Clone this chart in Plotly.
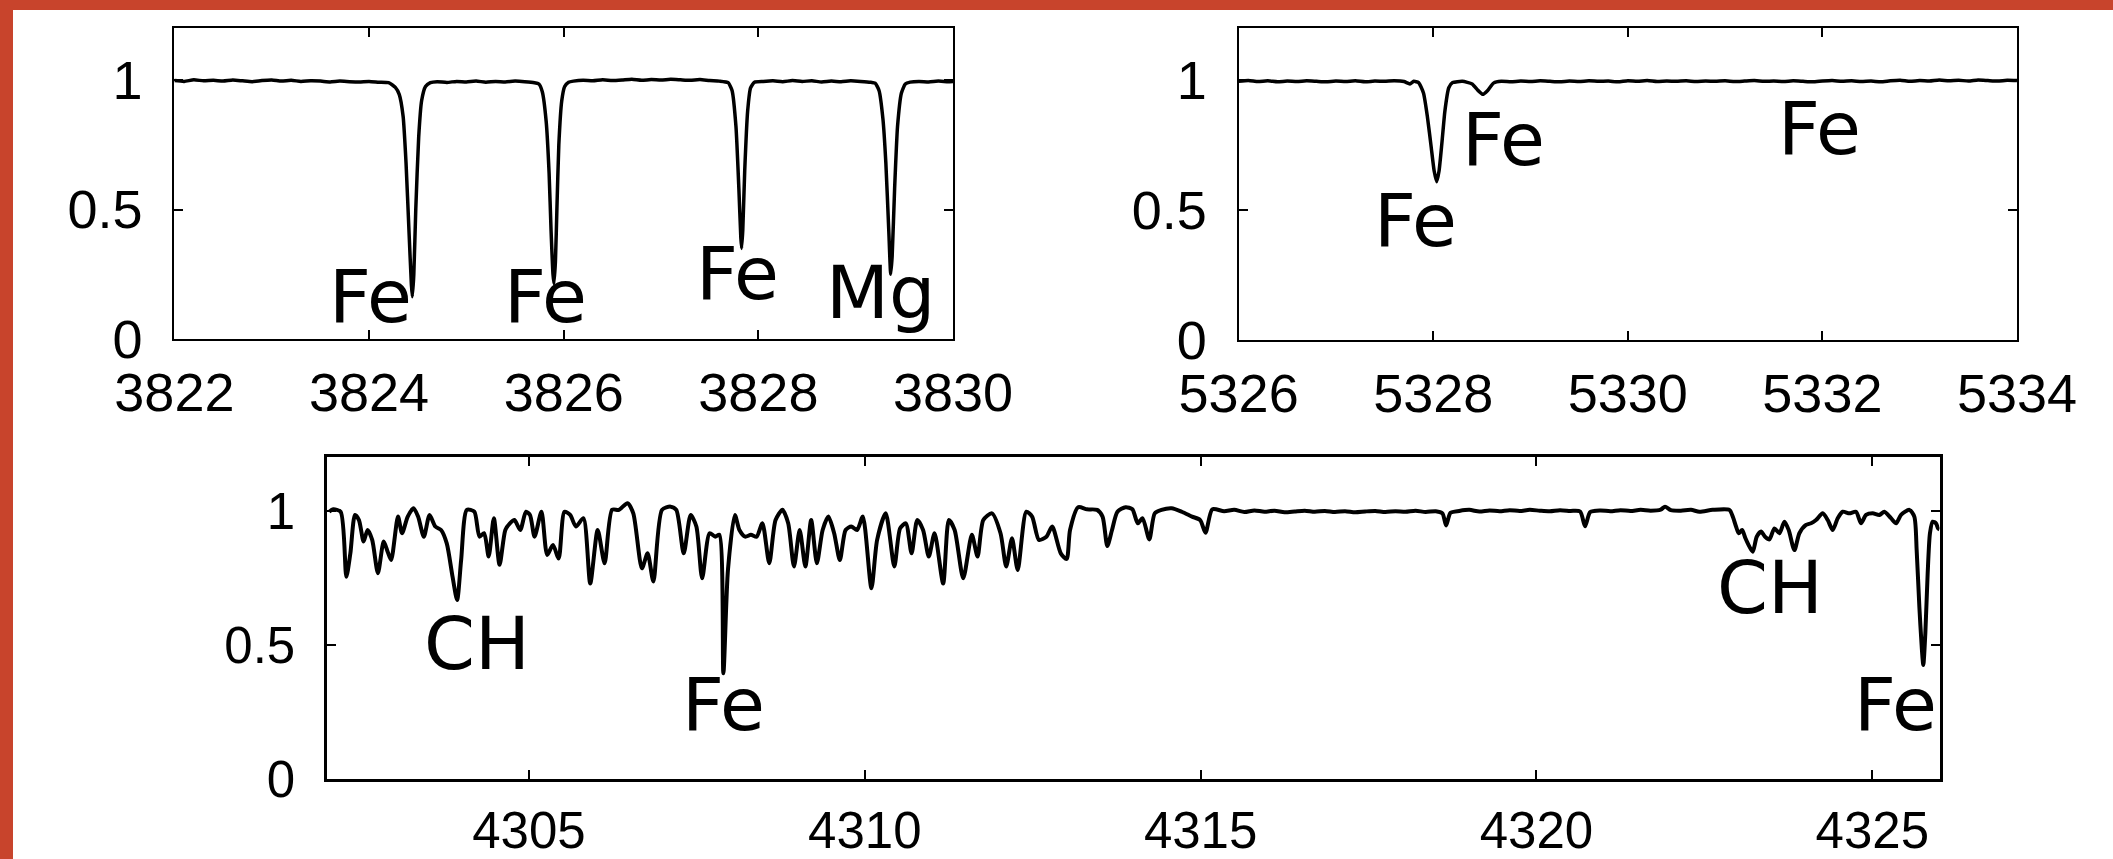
import plotly.graph_objects as go

# ---------------- data: panel 1 (3822-3830 A) ----------------
p1_wave = [3822.00, 3822.10, 3822.20, 3822.30, 3822.40, 3822.50, 3822.60, 3822.70, 3822.80, 3822.90,
           3823.00, 3823.10, 3823.20, 3823.30, 3823.40, 3823.50, 3823.60, 3823.70, 3823.80, 3823.90,
           3824.00, 3824.10, 3824.20, 3824.27, 3824.31, 3824.35, 3824.38, 3824.41, 3824.435, 3824.445,
           3824.46, 3824.48, 3824.51, 3824.54, 3824.58, 3824.63, 3824.70, 3824.80, 3824.90, 3825.00,
           3825.10, 3825.20, 3825.30, 3825.40, 3825.50, 3825.60, 3825.70, 3825.745, 3825.78, 3825.82,
           3825.85, 3825.87, 3825.89, 3825.90, 3825.915, 3825.93, 3825.95, 3825.98, 3826.01, 3826.05,
           3826.10, 3826.20, 3826.30, 3826.40, 3826.50, 3826.60, 3826.70, 3826.80, 3826.90, 3827.00,
           3827.10, 3827.20, 3827.30, 3827.40, 3827.50, 3827.60, 3827.69, 3827.73, 3827.77, 3827.80,
           3827.82, 3827.828, 3827.84, 3827.86, 3827.89, 3827.92, 3827.96, 3828.05, 3828.15, 3828.25,
           3828.35, 3828.45, 3828.55, 3828.65, 3828.75, 3828.85, 3828.95, 3829.05, 3829.15, 3829.20,
           3829.24, 3829.28, 3829.31, 3829.34, 3829.36, 3829.375, 3829.40, 3829.43, 3829.47, 3829.51,
           3829.56, 3829.65, 3829.75, 3829.85, 3829.95, 3830.00]
p1_flux = [0.998, 0.995, 1.001, 0.997, 0.999, 0.996, 1.000, 0.997, 0.994, 0.998,
           1.000, 0.996, 0.999, 0.995, 0.997, 0.996, 0.993, 0.996, 0.994, 0.993,
           0.995, 0.992, 0.990, 0.972, 0.945, 0.860, 0.680, 0.420, 0.210, 0.163,
           0.250, 0.500, 0.780, 0.920, 0.975, 0.990, 0.994, 0.991, 0.995, 0.993,
           0.996, 0.992, 0.995, 0.993, 0.996, 0.994, 0.990, 0.985, 0.955, 0.840,
           0.640, 0.420, 0.250, 0.215, 0.300, 0.500, 0.750, 0.920, 0.975, 0.992,
           0.996, 0.999, 0.997, 1.001, 0.998, 1.000, 1.003, 0.999, 1.002, 1.000,
           1.003, 1.001, 0.999, 1.002, 0.998, 0.996, 0.990, 0.960, 0.820, 0.580,
           0.390, 0.350, 0.420, 0.650, 0.880, 0.970, 0.992, 0.995, 0.997, 0.994,
           0.998, 0.995, 0.997, 0.993, 0.996, 0.994, 0.997, 0.995, 0.992, 0.988,
           0.960, 0.850, 0.680, 0.420, 0.250, 0.320, 0.580, 0.820, 0.950, 0.985,
           0.992, 0.995, 0.993, 0.996, 0.994, 0.995]

# ---------------- data: panel 2 (5326-5334 A) ----------------
p2_wave = [5326.00, 5326.10, 5326.20, 5326.30, 5326.40, 5326.50, 5326.60, 5326.70, 5326.80, 5326.90,
           5327.00, 5327.10, 5327.20, 5327.30, 5327.40, 5327.50, 5327.60, 5327.70, 5327.76, 5327.80,
           5327.85, 5327.90, 5327.94, 5327.98, 5328.01, 5328.036, 5328.06, 5328.09, 5328.12, 5328.16,
           5328.20, 5328.30, 5328.40, 5328.46, 5328.51, 5328.56, 5328.62, 5328.70, 5328.80, 5328.90,
           5329.00, 5329.10, 5329.20, 5329.30, 5329.40, 5329.50, 5329.60, 5329.70, 5329.80, 5329.90,
           5330.00, 5330.10, 5330.20, 5330.30, 5330.40, 5330.50, 5330.60, 5330.70, 5330.80, 5330.90,
           5331.00, 5331.10, 5331.20, 5331.30, 5331.40, 5331.50, 5331.60, 5331.70, 5331.80, 5331.90,
           5332.00, 5332.10, 5332.20, 5332.30, 5332.40, 5332.50, 5332.60, 5332.70, 5332.80, 5332.90,
           5333.00, 5333.10, 5333.20, 5333.30, 5333.40, 5333.50, 5333.60, 5333.70, 5333.80, 5333.90,
           5334.00]
p2_flux = [0.995, 0.998, 0.994, 0.997, 0.993, 0.996, 0.994, 0.997, 0.995, 0.993,
           0.996, 0.994, 0.997, 0.993, 0.996, 0.995, 0.997, 0.994, 0.985, 0.995,
           0.990, 0.950, 0.860, 0.740, 0.650, 0.609, 0.650, 0.760, 0.880, 0.970,
           0.990, 0.995, 0.985, 0.960, 0.945, 0.960, 0.988, 0.995, 0.993, 0.996,
           0.994, 0.997, 0.995, 0.993, 0.996, 0.994, 0.997, 0.995, 0.996, 0.993,
           0.997, 0.995, 0.998, 0.994, 0.996, 0.995, 0.997, 0.994, 0.996, 0.995,
           0.997, 0.994, 0.996, 0.998, 0.995, 0.996, 0.994, 0.997, 0.995, 0.993,
           0.996, 0.998, 0.995, 0.997, 0.994, 0.996, 0.993, 0.997, 0.999, 0.995,
           0.998, 0.996, 1.000, 0.997, 0.999, 0.996, 1.000, 0.998, 0.996, 0.999,
           0.998]

# ---------------- data: panel 3 (4302-4326 A) ----------------
p3_wave = [4302.026, 4302.086, 4302.197, 4302.282, 4302.342, 4302.411, 4302.470, 4302.539, 4302.598, 4302.667,
           4302.752, 4302.838, 4302.897, 4302.949, 4303.051, 4303.111, 4303.196, 4303.282, 4303.350, 4303.436,
           4303.521, 4303.607, 4303.692, 4303.777, 4303.863, 4303.931, 4303.991, 4304.076, 4304.187, 4304.264,
           4304.333, 4304.401, 4304.478, 4304.563, 4304.649, 4304.717, 4304.785, 4304.871, 4304.956, 4305.016,
           4305.084, 4305.187, 4305.272, 4305.358, 4305.443, 4305.529, 4305.614, 4305.700, 4305.811, 4305.913,
           4306.024, 4306.127, 4306.238, 4306.340, 4306.468, 4306.554, 4306.682, 4306.767, 4306.853, 4306.981,
           4307.109, 4307.194, 4307.305, 4307.408, 4307.493, 4307.579, 4307.690, 4307.775, 4307.835, 4307.895,
           4307.963, 4308.066, 4308.134, 4308.219, 4308.305, 4308.390, 4308.476, 4308.578, 4308.672, 4308.775,
           4308.860, 4308.946, 4309.031, 4309.116, 4309.202, 4309.287, 4309.373, 4309.458, 4309.544, 4309.629,
           4309.715, 4309.800, 4309.885, 4309.971, 4310.099, 4310.184, 4310.312, 4310.440, 4310.526, 4310.611,
           4310.697, 4310.782, 4310.868, 4310.953, 4311.039, 4311.167, 4311.252, 4311.338, 4311.466, 4311.594,
           4311.679, 4311.765, 4311.893, 4312.021, 4312.106, 4312.192, 4312.277, 4312.405, 4312.491, 4312.593,
           4312.704, 4312.790, 4312.918, 4313.005, 4313.056, 4313.177, 4313.308, 4313.459, 4313.540, 4313.611,
           4313.681, 4313.762, 4313.883, 4313.984, 4314.065, 4314.135, 4314.236, 4314.317, 4314.418, 4314.569,
           4314.720, 4314.872, 4314.993, 4315.073, 4315.174, 4315.350, 4315.500, 4315.650, 4315.800, 4315.950,
           4316.100, 4316.250, 4316.400, 4316.550, 4316.700, 4316.850, 4317.000, 4317.150, 4317.300, 4317.450,
           4317.600, 4317.750, 4317.900, 4318.050, 4318.200, 4318.350, 4318.500, 4318.600, 4318.655, 4318.720,
           4318.850, 4319.000, 4319.150, 4319.300, 4319.450, 4319.600, 4319.750, 4319.900, 4320.050, 4320.200,
           4320.350, 4320.500, 4320.650, 4320.723, 4320.800, 4320.950, 4321.100, 4321.250, 4321.400, 4321.550,
           4321.700, 4321.850, 4321.914, 4322.000, 4322.150, 4322.300, 4322.426, 4322.624, 4322.872, 4322.922,
           4322.972, 4323.011, 4323.061, 4323.111, 4323.170, 4323.220, 4323.279, 4323.344, 4323.403, 4323.468,
           4323.542, 4323.617, 4323.691, 4323.755, 4323.840, 4323.914, 4324.013, 4324.088, 4324.162, 4324.261,
           4324.336, 4324.410, 4324.485, 4324.559, 4324.658, 4324.757, 4324.832, 4324.906, 4325.005, 4325.105,
           4325.179, 4325.278, 4325.353, 4325.427, 4325.551, 4325.625, 4325.660, 4325.700, 4325.735, 4325.759,
           4325.789, 4325.824, 4325.858, 4325.898, 4325.948, 4325.978, 4326.000]
p3_flux = [0.996, 1.005, 0.996, 0.754, 0.841, 0.984, 0.965, 0.885, 0.928, 0.891,
           0.767, 0.885, 0.847, 0.816, 0.978, 0.916, 0.978, 1.009, 0.978, 0.903,
           0.984, 0.941, 0.928, 0.878, 0.754, 0.667, 0.816, 1.003, 0.996, 0.903,
           0.916, 0.829, 0.972, 0.798, 0.928, 0.953, 0.965, 0.928, 0.996, 0.984,
           0.903, 0.996, 0.835, 0.872, 0.822, 0.996, 0.984, 0.941, 0.972, 0.729,
           0.928, 0.804, 1.003, 1.003, 1.028, 0.990, 0.785, 0.841, 0.736, 1.003,
           1.015, 1.003, 0.841, 0.984, 0.941, 0.748, 0.916, 0.903, 0.910, 0.394,
           0.779, 0.984, 0.928, 0.903, 0.910, 0.903, 0.953, 0.804, 0.965, 1.003,
           0.953, 0.792, 0.928, 0.792, 0.965, 0.804, 0.928, 0.978, 0.916, 0.816,
           0.928, 0.941, 0.928, 0.978, 0.711, 0.891, 0.990, 0.792, 0.934, 0.953,
           0.841, 0.965, 0.928, 0.829, 0.916, 0.729, 0.965, 0.928, 0.748, 0.910,
           0.829, 0.965, 0.990, 0.916, 0.792, 0.897, 0.779, 0.996, 0.978, 0.891,
           0.903, 0.941, 0.841, 0.820, 0.928, 1.013, 1.005, 1.003, 0.978, 0.868,
           0.928, 0.996, 1.013, 1.005, 0.953, 0.972, 0.893, 0.990, 1.003, 1.009,
           0.996, 0.978, 0.965, 0.918, 1.005, 0.998, 1.003, 0.995, 1.001, 0.996,
           1.000, 0.994, 0.997, 1.000, 0.996, 0.999, 0.995, 0.998, 0.994, 0.997,
           0.999, 0.995, 0.998, 0.996, 1.000, 0.995, 0.998, 0.990, 0.945, 0.992,
           0.999, 1.003, 0.997, 1.001, 0.998, 1.002, 0.999, 1.003, 1.000, 0.998,
           1.002, 0.999, 0.997, 0.942, 0.995, 1.001, 0.998, 1.002, 0.999, 1.003,
           1.000, 1.004, 1.015, 1.002, 1.000, 1.003, 0.996, 1.003, 1.003, 0.978,
           0.940, 0.916, 0.928, 0.897, 0.866, 0.847, 0.903, 0.922, 0.903, 0.893,
           0.934, 0.916, 0.959, 0.928, 0.853, 0.916, 0.947, 0.953, 0.965, 0.990,
           0.965, 0.928, 0.972, 0.996, 0.990, 0.996, 0.953, 0.984, 0.990, 0.984,
           0.996, 0.972, 0.953, 0.984, 1.003, 0.978, 0.853, 0.642, 0.493, 0.425,
           0.543, 0.767, 0.916, 0.959, 0.953, 0.934, 0.930]

# ---------------- labels ----------------
p1_labels = ["Fe", "Fe", "Fe", "Mg"]
p1_label_x = [3824.01, 3825.81, 3827.79, 3829.26]
p1_label_y = [0.164, 0.164, 0.2525, 0.181]
p2_labels = ["Fe", "Fe", "Fe"]
p2_label_x = [5327.82, 5328.72, 5331.97]
p2_label_y = [0.4615, 0.771, 0.815]
p3_labels = ["CH", "Fe", "CH", "Fe"]
p3_label_x = [4304.23, 4307.90, 4323.48, 4325.34]
p3_label_y = [0.505, 0.276, 0.714, 0.276]

p1_ticks = [3822, 3824, 3826, 3828, 3830]
p2_ticks = [5326, 5328, 5330, 5332, 5334]
p3_ticks = [4305, 4310, 4315, 4320, 4325]
y_ticks = [0, 0.5, 1]
y_ticktext = ["0", "0.5", "1"]

W, H = 2113, 859

def dom_x(a, b):
    return [a / W, b / W]

def dom_y(top, bottom):
    return [1 - bottom / H, 1 - top / H]

fig = go.Figure()
fig.add_trace(go.Scatter(x=p1_wave, y=p1_flux, mode="lines", xaxis="x", yaxis="y",
                         line=dict(color="black", width=3.5, shape="spline", smoothing=0.5)))
fig.add_trace(go.Scatter(x=p2_wave, y=p2_flux, mode="lines", xaxis="x2", yaxis="y2",
                         line=dict(color="black", width=3.5, shape="spline", smoothing=0.5)))
fig.add_trace(go.Scatter(x=p3_wave, y=p3_flux, mode="lines", xaxis="x3", yaxis="y3",
                         line=dict(color="black", width=4, shape="spline", smoothing=0.7)))

tick_font_top = dict(family="Liberation Sans, Arial, sans-serif", size=54, color="black")
tick_font_bot = dict(family="Liberation Sans, Arial, sans-serif", size=51, color="black")

def xax(dom, rng, ticks, font, lw, anchor):
    return dict(domain=dom, range=rng, tickmode="array", tickvals=ticks,
                ticktext=[str(t) for t in ticks], ticks="inside", ticklen=9, tickwidth=1.5,
                tickcolor="black", showline=True, linecolor="black", linewidth=lw,
                mirror="ticks", showgrid=False, zeroline=False, tickfont=font,
                anchor=anchor, ticklabelstandoff=5, fixedrange=True, automargin=False)

def yax(dom, font, lw, anchor):
    return dict(domain=dom, range=[0, 1.2], tickmode="array", tickvals=y_ticks,
                ticktext=y_ticktext, ticks="inside", ticklen=9, tickwidth=1.5,
                tickcolor="black", showline=True, linecolor="black", linewidth=lw,
                mirror="ticks", showgrid=False, zeroline=False, tickfont=font,
                anchor=anchor, ticklabelstandoff=19, fixedrange=True, automargin=False)

annotations = []
lab_font = dict(family="DejaVu Sans", size=73, color="black")
for t, x, y in zip(p1_labels, p1_label_x, p1_label_y):
    annotations.append(dict(text=t, x=x, y=y, xref="x", yref="y", showarrow=False,
                            xanchor="center", yanchor="middle", font=lab_font))
for t, x, y in zip(p2_labels, p2_label_x, p2_label_y):
    annotations.append(dict(text=t, x=x, y=y, xref="x2", yref="y2", showarrow=False,
                            xanchor="center", yanchor="middle", font=lab_font))
for t, x, y in zip(p3_labels, p3_label_x, p3_label_y):
    annotations.append(dict(text=t, x=x, y=y, xref="x3", yref="y3", showarrow=False,
                            xanchor="center", yanchor="middle", font=lab_font))

red = "#c8442c"
shapes = [
    dict(type="rect", xref="paper", yref="paper", x0=0, x1=13 / W, y0=0, y1=1,
         fillcolor=red, line=dict(width=0), layer="below"),
    dict(type="rect", xref="paper", yref="paper", x0=0, x1=1, y0=1 - 10 / H, y1=1,
         fillcolor=red, line=dict(width=0), layer="below"),
]

fig.update_layout(
    width=W, height=H, margin=dict(l=0, r=0, t=0, b=0, pad=0, autoexpand=False),
    paper_bgcolor="white", plot_bgcolor="rgba(0,0,0,0)", showlegend=False,
    xaxis=xax(dom_x(174.4, 953), [3822, 3830], p1_ticks, tick_font_top, 2, "y"),
    yaxis=yax(dom_y(28.3, 339), tick_font_top, 2, "x"),
    xaxis2=xax(dom_x(1238.6, 2017), [5326, 5334], p2_ticks, tick_font_top, 2, "y2"),
    yaxis2=yax(dom_y(28, 340), tick_font_top, 2, "x2"),
    xaxis3=xax(dom_x(327.4, 1939.5), [4302, 4326], p3_ticks, tick_font_bot, 3, "y3"),
    yaxis3=yax(dom_y(457, 779), tick_font_bot, 3, "x3"),
    annotations=annotations, shapes=shapes,
)

fig.write_html("out.html", config={"displayModeBar": False},
               post_script="document.body.style.margin='0';document.body.style.overflow='hidden';")
